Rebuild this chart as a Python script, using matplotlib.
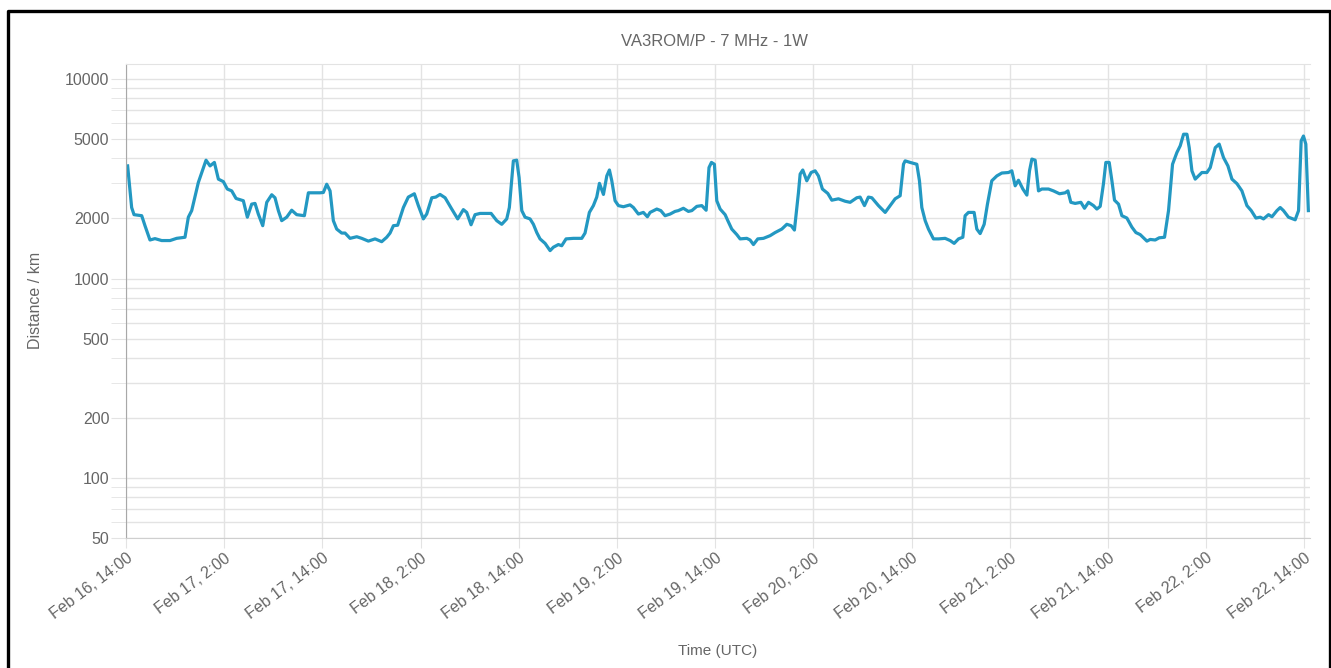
import pandas as pd
import matplotlib
matplotlib.use("Agg")
import matplotlib.pyplot as plt
from matplotlib.lines import Line2D

plt.rcParams['font.family'] = ['Liberation Sans', 'DejaVu Sans']

# hours after Feb 16 14:00 UTC and the reported distance (km)
hours = [
    0.2, 0.69, 0.98, 1.92, 2.32, 2.93, 3.54, 4.36, 5.38, 6.19, 7.21, 7.62, 8.03, 8.84,
    9.78, 10.27, 10.8, 11.29, 11.9, 12.38, 12.92, 13.45, 14.34, 14.83, 15.36, 15.77,
    16.17, 16.71, 17.2, 17.81, 18.21, 18.62, 19.03, 19.64, 20.25, 20.86, 21.8, 22.29,
    23.7, 24.12, 24.53, 24.94, 25.34, 25.75, 26.36, 26.77, 27.38, 28.2, 28.81, 29.62,
    30.44, 31.25, 31.86, 32.27, 32.68, 33.2, 33.9, 34.5, 35.24, 35.73, 36.34, 36.75,
    37.37, 37.86, 38.38, 39.0, 39.81, 40.54, 41.23, 41.64, 42.17, 42.66, 43.27, 44.62,
    45.31, 45.92, 46.53, 46.85, 47.34, 47.75, 48.04, 48.37, 48.77, 49.38, 49.79, 50.2,
    50.6, 51.22, 51.83, 52.23, 52.84, 53.25, 53.78, 54.68, 55.7, 56.1, 56.63, 57.12,
    57.53, 57.86, 58.35, 58.76, 59.08, 59.37, 59.77, 60.18, 60.79, 61.6, 62.01, 62.62,
    63.23, 63.72, 64.05, 64.87, 65.36, 65.88, 66.5, 67.1, 67.5, 68.12, 68.73, 69.15,
    69.76, 70.37, 70.9, 71.25, 71.55, 71.91, 72.2, 72.61, 73.22, 73.55, 74.03, 74.65,
    75.05, 75.87, 76.27, 76.68, 77.21, 77.9, 78.72, 79.33, 80.15, 80.76, 81.29, 81.69,
    82.18, 82.39, 82.71, 83.2, 83.73, 84.22, 84.62, 85.11, 85.77, 86.26, 87.07, 87.89,
    88.5, 89.31, 89.72, 90.25, 90.73, 91.15, 91.96, 92.78, 93.39, 94.0, 94.61, 95.02,
    95.22, 95.83, 96.65, 96.97, 97.26, 97.67, 98.07, 98.68, 99.3, 100.11, 100.72,
    101.21, 101.74, 102.27, 102.55, 102.96, 103.65, 103.98, 104.39, 104.88, 105.28,
    105.81, 106.43, 107.04, 107.85, 108.26, 108.67, 109.07, 109.61, 110.1, 110.42,
    110.71, 111.11, 111.52, 111.93, 112.74, 113.35, 114.09, 114.78, 115.11, 115.47,
    116.0, 116.7, 117.14, 117.63, 118.24, 118.65, 119.06, 119.46, 119.75, 120.16,
    120.49, 120.81, 121.3, 121.71, 122.32, 122.93, 123.42, 123.95, 124.77, 125.17,
    125.78, 126.27, 126.92, 127.41, 127.9, 128.43, 128.84, 129.25, 129.66, 129.94,
    130.27, 130.67, 131.08, 131.49, 132.1, 132.51, 133.12, 133.6, 134.13, 134.67,
    135.16, 135.77, 136.38, 136.99, 137.52, 138.09, 138.62, 139.02, 139.63, 140.05,
    140.66, 141.06, 141.46, 142.07, 142.89, 143.3, 143.62, 143.9, 144.19, 144.5,
]
distance = [
    3670, 2270, 2090, 2065, 1840, 1560, 1585, 1550, 1550, 1590, 1610, 2030, 2190, 3030,
    3920, 3670, 3820, 3150, 3060, 2810, 2750, 2520, 2455, 2030, 2360, 2380,
    2105, 1840, 2410, 2630, 2540, 2190, 1950, 2030, 2200, 2090, 2065, 2690,
    2690, 2700, 2970, 2750, 1950, 1770, 1690, 1690, 1590, 1620, 1590, 1540,
    1580, 1530, 1610, 1690, 1840, 1850, 2270, 2560, 2660, 2320, 1990, 2105,
    2540, 2560, 2640, 2540, 2230, 1990, 2215, 2145, 1860, 2090, 2120, 2120,
    1950, 1870, 1990, 2270, 3890, 3920, 3210, 2190, 2030, 1990, 1870, 1700,
    1580, 1500, 1380, 1435, 1480, 1460, 1580, 1590, 1590, 1690, 2145, 2320,
    2560, 3000, 2640, 3270, 3500, 3090, 2455, 2320, 2290, 2340, 2270, 2105,
    2145, 2040, 2145, 2230, 2190, 2065, 2105, 2170, 2190, 2250, 2170, 2190,
    2300, 2320, 2200, 3600, 3820, 3740, 2455, 2230, 2090, 1950, 1770, 1660,
    1580, 1590, 1560, 1480, 1580, 1590, 1640, 1700, 1770, 1870, 1840, 1750,
    2690, 3340, 3500, 3090, 3400, 3467, 3270, 2810, 2670, 2470, 2510, 2440,
    2410, 2540, 2560, 2320, 2560, 2540, 2320, 2145, 2320, 2510, 2600, 3740,
    3890, 3820, 3740, 3090, 2270, 1950, 1770, 1580, 1580, 1590, 1550,
    1500, 1580, 1610, 2065, 2145, 2145, 1770, 1680, 1870, 2360,
    3090, 3270, 3380, 3400, 3467, 2917, 3110, 2810, 2620, 3467,
    3970, 3920, 2750, 2810, 2810, 2750, 2660, 2690, 2750, 2410,
    2380, 2410, 2250, 2410, 2320, 2230, 2300, 2990, 3820, 3820,
    3090, 2470, 2360, 2065, 2010, 1810, 1700, 1660, 1540, 1570,
    1560, 1600, 1610, 2190, 3740, 4280, 4630, 5290, 5290, 4530,
    3467, 3150, 3270, 3400, 3400, 3600, 4530, 4720, 4040, 3670,
    3150, 2990, 2750, 2320, 2190, 2010, 2030, 1990, 2090, 2040,
    2190, 2270, 2190, 2030, 1970, 2190, 4900, 5180, 4720, 2190,
]

tick_hours = [0, 12, 24, 36, 48, 60, 72, 84, 96, 108, 120, 132, 144]
tick_labels = ['Feb 16, 14:00', 'Feb 17, 2:00', 'Feb 17, 14:00', 'Feb 18, 2:00',
               'Feb 18, 14:00', 'Feb 19, 2:00', 'Feb 19, 14:00', 'Feb 20, 2:00',
               'Feb 20, 14:00', 'Feb 21, 2:00', 'Feb 21, 14:00', 'Feb 22, 2:00',
               'Feb 22, 14:00']
y_major = [50, 100, 200, 500, 1000, 2000, 5000, 10000]
y_minor = [60, 70, 80, 90, 300, 400, 600, 700, 800, 900,
           3000, 4000, 6000, 7000, 8000, 9000]

start = pd.Timestamp('2025-02-16 14:00')
times = start + pd.to_timedelta(hours, unit='h')
tick_times = start + pd.to_timedelta(tick_hours, unit='h')

W, H = 1331, 668
fig = plt.figure(figsize=(W / 100, H / 100), dpi=100)
ax = fig.add_axes([126 / W, 1 - 538 / H, (1310 - 126) / W, (538 - 64) / H])

grid_c = '#e3e3e3'
text_c = '#666666'

ax.plot(times, distance, color='#2398c2', lw=2.3, solid_joinstyle='round')

ax.set_yscale('log')
ax.set_ylim(50, 11900)
ax.set_xlim(start, start + pd.Timedelta(hours=144.7))

ax.set_yticks(y_major)
ax.set_yticklabels([str(v) for v in y_major])
ax.set_yticks(y_minor, minor=True)
ax.set_yticklabels([], minor=True)
ax.set_xticks(tick_times)
ax.set_xticklabels(tick_labels, rotation=37, ha='right', rotation_mode='anchor')

ax.grid(True, which='both', color=grid_c, lw=1)
ax.tick_params(axis='y', which='both', length=11, color=grid_c, pad=1,
               labelsize=11.5, labelcolor=text_c)
ax.tick_params(axis='x', length=7, color=grid_c, pad=2,
               labelsize=11.5, labelcolor=text_c)

ax.spines['right'].set_visible(False)
ax.spines['top'].set_color(grid_c)
ax.spines['left'].set_color('#a8a8a8')
ax.spines['bottom'].set_color('#cfcfcf')

fig.text(714 / W, 1 - 42 / H, 'VA3ROM/P - 7 MHz - 1W', ha='center', va='center',
         fontsize=12, color=text_c)
fig.text(718 / W, 1 - 651 / H, 'Time (UTC)', ha='center', va='center',
         fontsize=11, color=text_c)
fig.text(35 / W, 1 - 300 / H, 'Distance / km', ha='center', va='center',
         rotation=90, fontsize=11.5, color=text_c)

# black frame around the panel (open at the bottom)
fx = [7.5 / W, 7.5 / W, 1329.5 / W, 1329.5 / W]
fy = [0, 1 - 10.5 / H, 1 - 10.5 / H, 0]
fig.add_artist(Line2D(fx, fy, color='black', lw=2.4, transform=fig.transFigure))

fig.savefig('out.png', dpi=100)
